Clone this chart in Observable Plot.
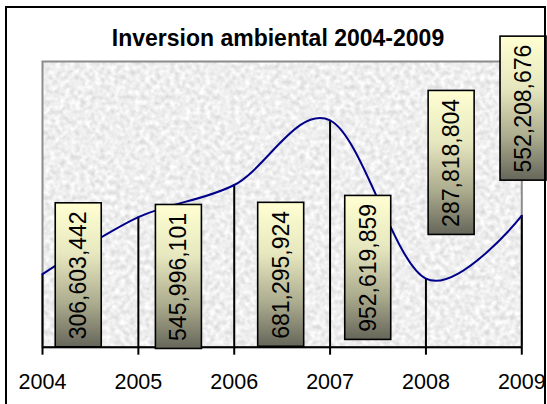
<!DOCTYPE html>
<html>
<head>
<meta charset="utf-8">
<script src="https://cdn.jsdelivr.net/npm/d3@7"></script>
<script src="https://cdn.jsdelivr.net/npm/@observablehq/plot@0.6"></script>
<style>
  html, body { margin: 0; padding: 0; background: #fff; }
  #wrap { position: relative; width: 547px; height: 404px; overflow: hidden; }
  #border { position: absolute; left: 5px; top: 6px; width: 541px; height: 430px; border: 2px solid #000; box-sizing: border-box; z-index: 3; pointer-events: none; }
  #title { position: absolute; left: 0; top: 27px; width: 556px; text-align: center; font: bold 23px Arial, "Liberation Sans", sans-serif; line-height: 23px; color: #000; z-index: 2; }
  #chart { position: absolute; left: 0; top: 0; z-index: 1; }
</style>
</head>
<body>
<div id="wrap">
  <div id="chart"></div>
  <div id="title">Inversion ambiental 2004-2009</div>
  <div id="border"></div>
</div>
<script>
// Data
const years = [2004, 2005, 2006, 2007, 2008, 2009];
const values = [306603442, 545996101, 681295924, 952619859, 287818804, 552208676];
// Data-label anchors (label box centres, in data units), as placed in the original
const labelYears = [2004.378, 2005.423, 2006.49, 2007.398, 2008.268, 2009.018];
const labelValues = [302e6, 295e6, 304e6, 333e6, 774e6, 1002e6];

const idx = d3.range(years.length);
const fmt = d3.format(",");

const svg = Plot.plot({
  width: 547,
  height: 404,
  marginLeft: 42,
  marginRight: 25.7,
  marginTop: 61,
  marginBottom: 57.3,
  style: { fontFamily: "Arial, 'Liberation Sans', sans-serif", fontSize: "21.5px", background: "transparent", overflow: "visible", color: "#000" },
  x: { domain: [2004, 2009] },
  y: { domain: [0, 1.2e9], axis: null },
  marks: [
    Plot.frame({ fill: "url(#bgPat)", stroke: "#8c8c8c", strokeWidth: 2 }),
    Plot.ruleX(idx, { x: i => years[i], y1: 0, y2: i => values[i], stroke: "#000", strokeWidth: 2 }),
    Plot.line(idx, { x: i => years[i], y: i => values[i], curve: "cardinal", stroke: "#00008b", strokeWidth: 2 }),
    Plot.ruleY([0], { stroke: "#000", strokeWidth: 2 }),
    Plot.axisX({ ticks: years, tickFormat: d => String(d), tickSize: 8, tickPadding: 19, strokeWidth: 2, stroke: "#000", fill: "#000", label: null }),
    Plot.rect(idx, {
      x1: i => labelYears[i], x2: i => labelYears[i],
      y1: i => labelValues[i], y2: i => labelValues[i],
      insetLeft: -23, insetRight: -23, insetTop: -72, insetBottom: -72,
      fill: "url(#boxGrad)", stroke: "#000", strokeWidth: 1.6
    }),
    Plot.text(idx, {
      x: i => labelYears[i], y: i => labelValues[i],
      text: i => fmt(values[i]), rotate: -90, fontSize: 23, fill: "#000"
    })
  ]
});

const ns = "http://www.w3.org/2000/svg";
const defs = document.createElementNS(ns, "defs");
defs.innerHTML = `
  <linearGradient id="boxGrad" x1="0" y1="0" x2="0" y2="1">
    <stop offset="0" stop-color="#ffffd2"/>
    <stop offset="0.35" stop-color="#e8e8c0"/>
    <stop offset="0.7" stop-color="#abab8e"/>
    <stop offset="1" stop-color="#66665a"/>
  </linearGradient>
  <filter id="noise" x="0" y="0" width="100%" height="100%" color-interpolation-filters="sRGB">
    <feTurbulence type="fractalNoise" baseFrequency="0.2" numOctaves="3" seed="7" result="t"/>
    <feColorMatrix in="t" type="matrix" values="0.26 0 0 0 0.805  0.26 0 0 0 0.805  0.26 0 0 0 0.805  0 0 0 0 1"/>
  </filter>
  <pattern id="bgPat" patternUnits="userSpaceOnUse" x="0" y="0" width="547" height="404">
    <rect width="547" height="404" fill="#ececec" filter="url(#noise)"/>
  </pattern>`;
svg.insertBefore(defs, svg.firstChild);
document.getElementById("chart").appendChild(svg);
</script>
</body>
</html>
